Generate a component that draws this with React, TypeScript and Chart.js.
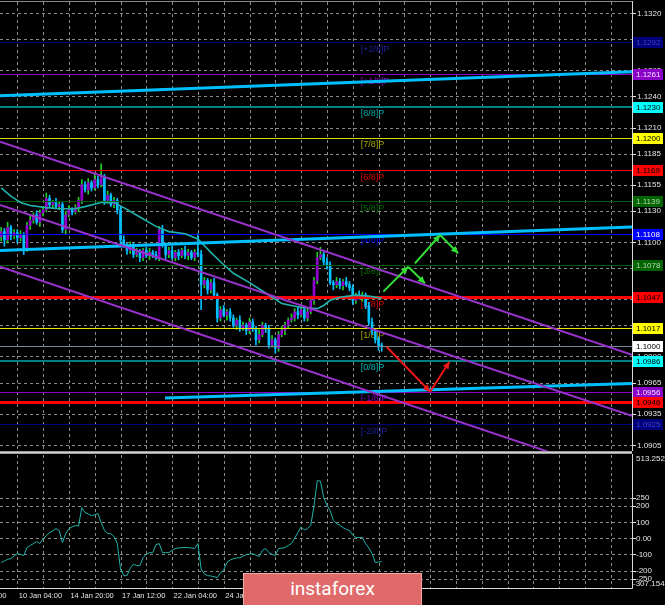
import React, { useEffect, useRef } from "react";
import { Chart, registerables } from "chart.js";

Chart.register(...registerables);

// ---------------- data ----------------
const firstBar = -5;
const firstOpen = 1.1105;
const closes = [
  1.1110, 1.1102, 1.1114, 1.1106, 1.1109,
  1.1104, 1.1107, 1.1094, 1.1116, 1.1121, 1.1126, 1.1119, 1.1128, 1.1131, 1.1142,
  1.1136, 1.1138, 1.1134, 1.1136, 1.1112, 1.1126, 1.1131, 1.1129, 1.1133, 1.1140,
  1.1155, 1.1150, 1.1157, 1.1152, 1.1160, 1.1155, 1.1162, 1.1140, 1.1145, 1.1136,
  1.1140, 1.1131, 1.1102, 1.1097, 1.1092, 1.1097, 1.1088, 1.1090, 1.1085, 1.1092,
  1.1087, 1.1090, 1.1088, 1.1085, 1.1112, 1.1097, 1.1088, 1.1092, 1.1085, 1.1090,
  1.1087, 1.1092, 1.1087, 1.1090, 1.1085, 1.1090, 1.1088, 1.1059, 1.1063, 1.1054,
  1.1061, 1.1049, 1.1027, 1.1035, 1.1030, 1.1033, 1.1027, 1.1020, 1.1025, 1.1017,
  1.1020, 1.1015, 1.1023, 1.1017, 1.1006, 1.1011, 1.1020, 1.1017, 1.1001, 1.1006,
  1.0998, 1.1011, 1.1015, 1.1020, 1.1025, 1.1027, 1.1033, 1.1030, 1.1035, 1.1027,
  1.1033, 1.1044, 1.1063, 1.1085, 1.1088, 1.1081, 1.1078, 1.1061, 1.1059, 1.1062,
  1.1058, 1.1062, 1.1059, 1.1056, 1.1044, 1.1049, 1.1047, 1.1049, 1.1039, 1.1023,
  1.1015, 1.1006, 1.1001, 1.1000,
];
const wickUpPips = [
  4, 3, 5, 2, 3,
  3, 4, 2, 3, 5, 2, 4, 3, 3, 5,
  3, 2, 4, 3, 2, 3, 4, 2, 3, 3,
  5, 3, 4, 2, 5, 3, 13, 3, 4, 2,
  3, 2, 3, 4, 2, 3, 2, 4, 3, 2,
  3, 4, 2, 3, 3, 4, 2, 3, 4, 2,
  3, 2, 4, 3, 2, 3, 18, 4, 3, 2,
  3, 4, 2, 3, 4, 2, 3, 3, 2, 4,
  3, 2, 4, 3, 2, 5, 3, 2, 3, 4,
  2, 3, 4, 3, 2, 4, 3, 5, 3, 2,
  3, 4, 3, 5, 7, 3, 4, 3, 2, 4,
  3, 2, 4, 3, 3, 2, 4, 3, 2, 3,
  4, 2, 3, 2,
];
const wickDownPips = [
  4, 6, 3, 4, 3,
  5, 3, 6, 3, 4, 3, 2, 4, 3, 2,
  3, 4, 2, 3, 3, 4, 2, 3, 2, 4,
  3, 2, 4, 3, 2, 3, 2, 4, 3, 2,
  3, 4, 5, 2, 4, 3, 3, 2, 4, 3,
  2, 4, 3, 2, 3, 2, 4, 3, 2, 3,
  4, 2, 3, 4, 2, 3, 2, 24, 3, 4,
  3, 2, 4, 3, 2, 5, 3, 2, 4, 3,
  2, 4, 3, 3, 5, 3, 2, 4, 3, 2,
  5, 3, 2, 4, 3, 2, 3, 4, 2, 3,
  3, 2, 4, 3, 2, 3, 4, 2, 5, 3,
  3, 4, 2, 3, 4, 3, 2, 4, 3, 3,
  4, 3, 5, 5,
];
const maBars = [-5, -2, 1, 4, 9, 13, 18, 21, 26, 30, 33, 38, 43, 47, 52, 56, 60, 63, 67, 72, 77, 82, 88, 93, 95, 97, 100, 105, 109, 113];
const maValues = [
  1.1152, 1.1144, 1.1138, 1.1135, 1.1133, 1.1132, 1.1132, 1.1134, 1.1138, 1.1138,
  1.1133, 1.1124, 1.1115, 1.1110, 1.1108, 1.1103, 1.1090, 1.1081, 1.1070, 1.1061,
  1.1051, 1.1041, 1.1037, 1.1036, 1.1039, 1.1044, 1.1047, 1.1049, 1.1048, 1.1046,
];
const cciValues = [
  -150, -140, -130, -126, -110,
  -95, -100, -107, -58, -45, -33, -21, -33, -5, 16,
  35, 45, 59, 47, -27, 28, 59, 70, 78, 75,
  189, 158, 150, 139, 145, 152, 96, 50, 28, 28,
  10, -33, -190, -231, -231, -187, -160, -169, -169, -120,
  -100, -89, -89, -40, -33, -89, -89, -89, -75, -64,
  -60, -58, -58, -58, -60, -64, -33, -190, -220, -231,
  -233, -238, -243, -215, -195, -150, -135, -126, -122, -120,
  -110, -101, -98, -95, -105, -113, -75, -64, -89, -100,
  -107, -64, -62, -58, -45, -33, 0, 35, 70, 50,
  59, 80, 200, 355, 352, 250, 205, 170, 110, 90,
  80, 65, 55, 47, 20, 4, 4, 4, -33, -60,
  -95, -150, -147, -144,
];
const priceTicks = [1.1320, 1.1295, 1.1265, 1.1240, 1.1210, 1.1185, 1.1155, 1.1130, 1.1100, 1.1075, 1.1045, 1.1020, 1.0990, 1.0965, 1.0935, 1.0905];
const cciTicks = [250, 200, 100, 0, -100, -200, -250];
const cciTickLabels = ["250", "200", "100", "0.00", "-100", "-200", "-250"];
const cciTop = 513.2528;
const cciBottom = -307.154;
const priceTop = 1.13306;
const priceBottom = 1.08992;
const viewFirstBar = -5.364;
const viewLastBar = 190.6;
const gridBars = [0, 8, 16, 24, 32, 40, 48, 56, 64, 72, 80, 88, 96, 104, 112, 120, 128, 136, 144, 152, 160, 168, 176, 184];
const timeLabelBars = [-16, 0, 16, 32, 48, 64, 80, 96, 112];
const timeLabels = ["7 Jan 12:00", "10 Jan 04:00", "14 Jan 20:00", "17 Jan 12:00", "22 Jan 04:00", "24 Jan 20:00", "29 Jan 12:00", "3 Feb 04:00", "5 Feb 20:00"];
const murrayValues = [1.1292, 1.1261, 1.1230, 1.1200, 1.1169, 1.1139, 1.1108, 1.1078, 1.1047, 1.1017, 1.0986, 1.0956, 1.0925];
const murrayNames = ["[+2/8]P", "[+1/8]P", "[8/8]P", "[7/8]P", "[6/8]P", "[5/8]P", "[4/8]P", "[3/8]P", "[2/8]P", "[1/8]P", "[0/8]P", "[-1/8]P", "[-2/8]P"];
const murrayLabelBar = 106.5;
const supportValue = 1.0946;
const bidValue = 1.1000;
const cyanTrends = [
  [-5.364, 1.12405, 190.6, 1.12636],
  [-5.364, 1.10918, 190.6, 1.11144],
  [45.8, 1.09501, 190.6, 1.09641],
];
const purpleTrends = [
  [-5.364, 1.11964, 190.6, 1.09917],
  [-5.364, 1.11355, 190.6, 1.09331],
  [-5.364, 1.10763, 190.6, 1.08713],
];
const greenArrows = [
  [113.5, 1.10523, 121.2, 1.10763],
  [121.2, 1.10763, 126.4, 1.10603],
  [123.3, 1.10795, 131.1, 1.11067],
  [131.1, 1.11067, 136.7, 1.10891],
];
const redArrows = [
  [114.5, 1.09994, 128.0, 1.09562],
  [128.0, 1.09562, 134.0, 1.09850],
];

// ---------------- styles ----------------
const FONT = '"Liberation Sans", Arial, sans-serif';
const GRID = "#8a8a8a";
const AXIS_TEXT = "#e4e4e4";
const BULL_BODY = "#9400d3";
const BULL_WICK = "#22cc22";
const BEAR = "#00bfff";
const levelStyles = [
  { line: "#000080", width: 1, box: "#00007a", text: "#4040c8", label: "#2020a0" },
  { line: "#8a00c8", width: 1, box: "#8a00c8", text: "#f0e0ff", label: "#8a00c8" },
  { line: "#008080", width: 2, box: "#00ffff", text: "#000000", label: "#00a8a8" },
  { line: "#d8d800", width: 1, box: "#ffff00", text: "#000000", label: "#a8a800" },
  { line: "#ff0000", width: 1, box: "#ff0000", text: "#000000", label: "#e00000" },
  { line: "#005a00", width: 1, box: "#006400", text: "#b8d8b8", label: "#007000" },
  { line: "#0000ff", width: 1, box: "#0000ff", text: "#ffffff", label: "#0000ff" },
  { line: "#005a00", width: 1, box: "#006400", text: "#b8d8b8", label: "#007000" },
  { line: "#ff0000", width: 3, box: "#ff0000", text: "#000000", label: "#e00000" },
  { line: "#e8e800", width: 1, box: "#ffff00", text: "#000000", label: "#a8a800" },
  { line: "#008080", width: 2, box: "#00ffff", text: "#000000", label: "#00b8b8" },
  { line: "#8a00c8", width: 1, box: "#8a00c8", text: "#f0e0ff", label: "#8a00c8" },
  { line: "#000080", width: 1, box: "#00007a", text: "#4040c8", label: "#2020a0" },
];
const supportStyle = { line: "#ff0000", width: 3, box: "#ff0000", text: "#000000" };
const bidStyle = { line: "#778899", width: 1, box: "#ffffff", text: "#000000" };

const pip = 0.0001;

function crisp(v: number, w: number) {
  const r = Math.round(v);
  return w % 2 === 1 ? r + 0.5 : r;
}

function drawArrowHead(ctx: CanvasRenderingContext2D, x1: number, y1: number, x2: number, y2: number, color: string) {
  const ang = Math.atan2(y2 - y1, x2 - x1);
  const L = 7, W = 3.5;
  const bx = x2 - L * Math.cos(ang), by = y2 - L * Math.sin(ang);
  ctx.fillStyle = color;
  ctx.beginPath();
  ctx.moveTo(x2, y2);
  ctx.lineTo(bx - W * Math.sin(ang), by + W * Math.cos(ang));
  ctx.lineTo(bx + W * Math.sin(ang), by - W * Math.cos(ang));
  ctx.closePath();
  ctx.fill();
}

function drawBox(ctx: CanvasRenderingContext2D, py: number, value: number, st: any, left: number) {
  const y0 = Math.round(py) - 5;
  ctx.fillStyle = st.box;
  ctx.fillRect(left + 1, y0, 30, 11);
  ctx.fillStyle = st.text;
  ctx.font = `8px ${FONT}`;
  ctx.textAlign = "left";
  ctx.textBaseline = "middle";
  ctx.fillText(value.toFixed(4), left + 4, y0 + 6);
}

export default function App() {
  const mainRef = useRef<HTMLCanvasElement>(null);
  const cciRef = useRef<HTMLCanvasElement>(null);

  useEffect(() => {
    const bars = closes.map((_, i) => firstBar + i);
    const opens = closes.map((c, i) => (i === 0 ? firstOpen : closes[i - 1]));
    const highs = closes.map((c, i) => Math.max(opens[i], c) + wickUpPips[i] * pip);
    const lows = closes.map((c, i) => Math.min(opens[i], c) - wickDownPips[i] * pip);
    const isBull = (i: number) => closes[i] >= opens[i];

    const seg = (s: number[], color: string, width: number, order: number) => ({
      type: "line",
      data: [{ x: s[0], y: s[1] }, { x: s[2], y: s[3] }],
      borderColor: color,
      borderWidth: width,
      pointRadius: 0,
      tension: 0,
      fill: false,
      clip: 0,
      order,
    });

    const mainPlugin = {
      id: "mt4Main",
      beforeDraw(chart: any) {
        const ctx = chart.ctx;
        ctx.save();
        ctx.fillStyle = "#000";
        ctx.fillRect(0, 0, chart.width, chart.height);
        ctx.restore();
      },
      beforeDatasetsDraw(chart: any) {
        const { ctx, chartArea: a } = chart;
        const xs = chart.scales.x, ys = chart.scales.y;
        ctx.save();
        ctx.beginPath();
        ctx.rect(a.left, a.top, a.right - a.left, a.bottom - a.top);
        ctx.clip();
        ctx.strokeStyle = GRID;
        ctx.lineWidth = 1;
        ctx.setLineDash([3, 3]);
        for (const v of priceTicks) {
          const py = crisp(ys.getPixelForValue(v), 1);
          ctx.beginPath();
          ctx.moveTo(a.left, py);
          ctx.lineTo(a.right, py);
          ctx.stroke();
        }
        for (const b of gridBars) {
          const px = crisp(xs.getPixelForValue(b), 1);
          ctx.beginPath();
          ctx.moveTo(px, a.top);
          ctx.lineTo(px, a.bottom);
          ctx.stroke();
        }
        ctx.setLineDash([]);
        ctx.font = `9px ${FONT}`;
        ctx.textAlign = "left";
        ctx.textBaseline = "middle";
        const lx = xs.getPixelForValue(murrayLabelBar);
        murrayValues.forEach((v, k) => {
          ctx.fillStyle = levelStyles[k].label;
          ctx.fillText(murrayNames[k], lx, ys.getPixelForValue(v) + 7);
        });
        ctx.restore();
      },
      afterDatasetDraw(chart: any, args: any) {
        if (args.index !== 1) return;
        const { ctx, chartArea: a } = chart;
        const ys = chart.scales.y;
        ctx.save();
        const drawLevel = (v: number, st: any) => {
          const py = crisp(ys.getPixelForValue(v), st.width);
          ctx.strokeStyle = st.line;
          ctx.lineWidth = st.width;
          ctx.beginPath();
          ctx.moveTo(a.left, py);
          ctx.lineTo(a.right, py);
          ctx.stroke();
        };
        murrayValues.forEach((v, k) => drawLevel(v, levelStyles[k]));
        drawLevel(supportValue, supportStyle);
        drawLevel(bidValue, bidStyle);
        ctx.restore();
      },
      afterDatasetsDraw(chart: any) {
        const { ctx, chartArea: a } = chart;
        const xs = chart.scales.x, ys = chart.scales.y;
        ctx.save();
        ctx.beginPath();
        ctx.rect(a.left, a.top, a.right - a.left, a.bottom - a.top);
        ctx.clip();
        for (const s of greenArrows) {
          drawArrowHead(ctx, xs.getPixelForValue(s[0]), ys.getPixelForValue(s[1]), xs.getPixelForValue(s[2]), ys.getPixelForValue(s[3]), "#33e033");
        }
        for (const s of redArrows) {
          drawArrowHead(ctx, xs.getPixelForValue(s[0]), ys.getPixelForValue(s[1]), xs.getPixelForValue(s[2]), ys.getPixelForValue(s[3]), "#f01818");
        }
        ctx.restore();

        ctx.save();
        // borders
        ctx.strokeStyle = "#8c8c8c";
        ctx.lineWidth = 1;
        ctx.beginPath();
        ctx.moveTo(0, 1.5);
        ctx.lineTo(a.right, 1.5);
        ctx.stroke();
        ctx.strokeStyle = "#d8d8d8";
        ctx.beginPath();
        ctx.moveTo(a.right + 0.5, 1);
        ctx.lineTo(a.right + 0.5, a.bottom);
        ctx.stroke();
        // tick labels
        ctx.font = `8px ${FONT}`;
        ctx.textAlign = "left";
        ctx.textBaseline = "middle";
        for (const v of priceTicks) {
          const py = ys.getPixelForValue(v);
          ctx.fillStyle = AXIS_TEXT;
          ctx.fillRect(a.right + 1, Math.round(py), 3, 1);
          ctx.fillText(v.toFixed(4), a.right + 5, py + 0.5);
        }
        // level boxes
        murrayValues.forEach((v, k) => drawBox(ctx, ys.getPixelForValue(v), v, levelStyles[k], a.right));
        drawBox(ctx, ys.getPixelForValue(supportValue), supportValue, supportStyle, a.right);
        drawBox(ctx, ys.getPixelForValue(bidValue), bidValue, bidStyle, a.right);
        ctx.restore();
      },
    };

    const datasets: any[] = [
      {
        type: "bar",
        data: bars.map((b, i) => ({ x: b, y: [lows[i], highs[i]] })),
        barThickness: 1,
        grouped: false,
        backgroundColor: (c: any) => (isBull(c.dataIndex) ? BULL_WICK : BEAR),
        order: 20,
        clip: 0,
      },
      {
        type: "bar",
        data: bars.map((b, i) => ({ x: b, y: [opens[i], closes[i]] })),
        barThickness: 2,
        minBarLength: 1,
        grouped: false,
        backgroundColor: (c: any) => (isBull(c.dataIndex) ? BULL_BODY : BEAR),
        order: 19,
        clip: 0,
      },
      {
        type: "line",
        data: maBars.map((b, i) => ({ x: b, y: maValues[i] })),
        borderColor: "#20b2aa",
        borderWidth: 1.6,
        pointRadius: 0,
        tension: 0,
        fill: false,
        clip: 0,
        order: 18,
      },
      ...cyanTrends.map((s) => seg(s, "#00bfff", 3, 12)),
      ...purpleTrends.map((s) => seg(s, "#9932cc", 2, 10)),
      ...greenArrows.map((s) => seg(s, "#33e033", 2, 5)),
      ...redArrows.map((s) => seg(s, "#f01818", 2, 5)),
    ];

    const main = new Chart(mainRef.current as HTMLCanvasElement, {
      type: "line",
      data: { datasets },
      options: {
        animation: false,
        responsive: false,
        maintainAspectRatio: false,
        devicePixelRatio: 1,
        events: [],
        layout: { padding: { top: 2, right: 33, bottom: 0, left: 0 } },
        plugins: { legend: { display: false }, tooltip: { enabled: false }, title: { display: false } },
        scales: {
          x: { type: "linear", min: viewFirstBar, max: viewLastBar, display: false, offset: false },
          y: { type: "linear", min: priceBottom, max: priceTop, display: false },
        },
      },
      plugins: [mainPlugin],
    } as any);

    const cciPlugin = {
      id: "mt4Cci",
      beforeDraw(chart: any) {
        const ctx = chart.ctx;
        ctx.save();
        ctx.fillStyle = "#000";
        ctx.fillRect(0, 0, chart.width, chart.height);
        ctx.restore();
      },
      beforeDatasetsDraw(chart: any) {
        const { ctx, chartArea: a } = chart;
        const xs = chart.scales.x, ys = chart.scales.y;
        ctx.save();
        // separator
        ctx.fillStyle = "#9a9a9a";
        ctx.fillRect(0, 0, a.right, 3);
        ctx.fillStyle = "#d4d4d4";
        ctx.fillRect(0, 1, a.right, 1);
        ctx.beginPath();
        ctx.rect(a.left, a.top, a.right - a.left, a.bottom - a.top);
        ctx.clip();
        ctx.strokeStyle = GRID;
        ctx.lineWidth = 1;
        ctx.setLineDash([3, 3]);
        for (const v of cciTicks) {
          const py = crisp(ys.getPixelForValue(v), 1);
          ctx.beginPath();
          ctx.moveTo(a.left, py);
          ctx.lineTo(a.right, py);
          ctx.stroke();
        }
        for (const b of gridBars) {
          const px = crisp(xs.getPixelForValue(b), 1);
          ctx.beginPath();
          ctx.moveTo(px, a.top);
          ctx.lineTo(px, a.bottom);
          ctx.stroke();
        }
        ctx.restore();
      },
      afterDatasetsDraw(chart: any) {
        const { ctx, chartArea: a } = chart;
        const xs = chart.scales.x, ys = chart.scales.y;
        ctx.save();
        ctx.strokeStyle = "#d8d8d8";
        ctx.lineWidth = 1;
        ctx.beginPath();
        ctx.moveTo(a.right + 0.5, 3);
        ctx.lineTo(a.right + 0.5, a.bottom + 0.5);
        ctx.lineTo(0, a.bottom + 0.5);
        ctx.stroke();
        ctx.font = `8px ${FONT}`;
        ctx.textBaseline = "middle";
        ctx.textAlign = "left";
        ctx.fillStyle = AXIS_TEXT;
        cciTicks.forEach((v, k) => {
          const py = ys.getPixelForValue(v);
          ctx.fillRect(a.right + 1, Math.round(py), 3, 1);
          ctx.fillText(cciTickLabels[k], a.right + 4, py + 0.5);
        });
        ctx.fillText(cciTop.toFixed(4), a.right + 4, ys.getPixelForValue(cciTop) + 4);
        ctx.fillText(cciBottom.toFixed(3), a.right + 1, ys.getPixelForValue(cciBottom) - 4);
        ctx.font = `7.5px ${FONT}`;
        timeLabelBars.forEach((b, k) => {
          const px = xs.getPixelForValue(b);
          ctx.fillText(timeLabels[k], px + 1.5, a.bottom + 7.5);
        });
        ctx.restore();
      },
    };

    const cciChart = new Chart(cciRef.current as HTMLCanvasElement, {
      type: "line",
      data: {
        datasets: [
          {
            data: bars.map((b, i) => ({ x: b, y: cciValues[i] })),
            borderColor: "#20b2aa",
            borderWidth: 1,
            pointRadius: 0,
            tension: 0,
            fill: false,
            clip: 0,
          },
        ],
      },
      options: {
        animation: false,
        responsive: false,
        maintainAspectRatio: false,
        devicePixelRatio: 1,
        events: [],
        layout: { padding: { top: 4, right: 33, bottom: 17, left: 0 } },
        plugins: { legend: { display: false }, tooltip: { enabled: false }, title: { display: false } },
        scales: {
          x: { type: "linear", min: viewFirstBar, max: viewLastBar, display: false, offset: false },
          y: { type: "linear", min: cciBottom, max: cciTop, display: false },
        },
      },
      plugins: [cciPlugin],
    } as any);

    return () => {
      main.destroy();
      cciChart.destroy();
    };
  }, []);

  return (
    <div style={{ position: "fixed", left: 0, top: 0, width: 665, height: 605, background: "#000", overflow: "hidden" }}>
      <canvas ref={mainRef} width={665} height={451} style={{ position: "absolute", left: 0, top: 0 }} />
      <canvas ref={cciRef} width={665} height={154} style={{ position: "absolute", left: 0, top: 451 }} />
      <div
        style={{
          position: "absolute",
          left: 243,
          top: 573,
          width: 179,
          height: 40,
          boxSizing: "border-box",
          background: "#e06a6a",
          border: "1px solid #f0a8a8",
        }}
      >
        <span
          style={{
            position: "absolute",
            left: 0,
            right: 0,
            top: 5,
            textAlign: "center",
            color: "#ffffff",
            fontFamily: "Roboto, 'Open Sans', sans-serif",
            fontSize: 19,
            lineHeight: "19px",
          }}
        >
          instaforex
        </span>
      </div>
    </div>
  );
}
